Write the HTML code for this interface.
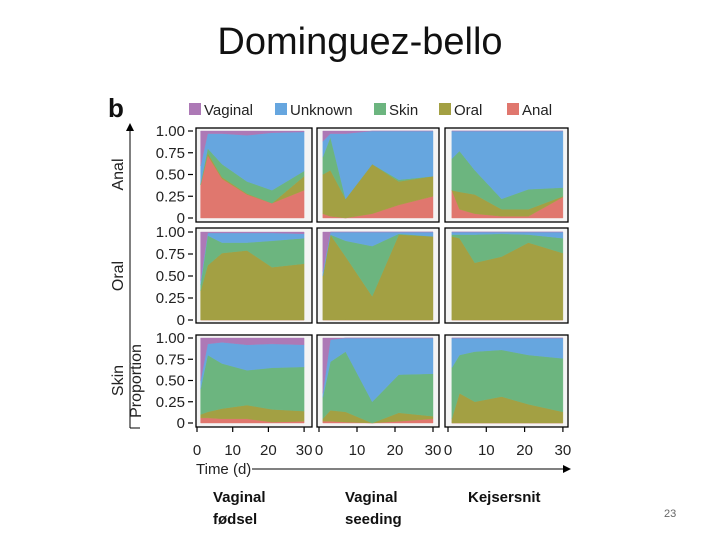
<!DOCTYPE html>
<html><head><meta charset="utf-8">
<style>
html,body{margin:0;padding:0;background:#fff;}
body{width:720px;height:540px;overflow:hidden;position:relative;font-family:"Liberation Sans",sans-serif;}
.t{position:absolute;}
</style></head>
<body>
<div class="t" style="left:0;width:720px;top:21px;text-align:center;font-size:38px;color:#111;">Dominguez-bello</div>
<svg id="chart" width="720" height="540" style="position:absolute;left:0;top:0" xmlns="http://www.w3.org/2000/svg"></svg>
<div class="t" style="left:213px;top:487px;font-size:15px;font-weight:bold;line-height:22px;color:#111;">Vaginal<br>fødsel</div>
<div class="t" style="left:345px;top:487px;font-size:15px;font-weight:bold;line-height:22px;color:#111;">Vaginal<br>seeding</div>
<div class="t" style="left:468px;top:487px;font-size:15px;font-weight:bold;line-height:22px;color:#111;">Kejsersnit</div>
<div class="t" style="left:664px;top:508px;font-size:11px;color:#666;">23</div>
<script>
const days = [1, 3, 7, 14, 21, 30];
const sources = ["Anal", "Oral", "Skin", "Unknown", "Vaginal"];
const colors = ["#e0776e", "#a3a043", "#6cb57f", "#66a6df", "#ad79b6"];
const legendOrder = ["Vaginal", "Unknown", "Skin", "Oral", "Anal"];
const rowNames = ["Anal", "Oral", "Skin"];
const yTicks = [0, 0.25, 0.5, 0.75, 1];
const yTickLabels = ["0", "0.25", "0.50", "0.75", "1.00"];
const xTicks = [0, 10, 20, 30];
// row Anal
const anal_vag_anal = [.38,.72,.45,.27,.17,.32];
const anal_vag_oral = [0,.03,.02,.01,0,.16];
const anal_vag_skin = [.02,.05,.15,.14,.15,.06];
const anal_vag_unk = [.20,.17,.35,.53,.66,.45];
const anal_vag_vag = [.40,.03,.03,.05,.02,.01];
const anal_seed_anal = [.05,.02,0,.05,.15,.25];
const anal_seed_oral = [.45,.53,.22,.57,.27,.23];
const anal_seed_skin = [.2,.38,0,0,.02,0];
const anal_seed_unk = [.18,.04,.75,.38,.56,.52];
const anal_seed_vag = [.12,.03,.03,0,0,0];
const anal_cs_anal = [.32,.1,.05,.02,.02,.24];
const anal_cs_oral = [0,.2,.22,.08,.08,.01];
const anal_cs_skin = [.36,.47,.28,.12,.23,.1];
const anal_cs_unk = [.32,.23,.45,.78,.67,.65];
const anal_cs_vag = [0,0,0,0,0,0];
// row Oral
const oral_vag_anal = [0,0,0,0,0,0];
const oral_vag_oral = [.33,.62,.76,.79,.6,.64];
const oral_vag_skin = [.07,.34,.12,.09,.3,.29];
const oral_vag_unk = [.05,.03,.11,.11,.09,.05];
const oral_vag_vag = [.55,.01,.01,.01,.01,.02];
const oral_seed_anal = [0,0,0,0,0,0];
const oral_seed_oral = [.5,.97,.72,.27,.97,.95];
const oral_seed_skin = [0,0,.18,.57,.01,0];
const oral_seed_unk = [.05,.03,.1,.16,.02,.05];
const oral_seed_vag = [.45,0,0,0,0,0];
const oral_cs_anal = [0,0,0,0,0,0];
const oral_cs_oral = [.95,.93,.65,.72,.88,.76];
const oral_cs_skin = [.02,.04,.32,.26,.09,.17];
const oral_cs_unk = [.03,.03,.03,.02,.03,.07];
const oral_cs_vag = [0,0,0,0,0,0];
// row Skin
const skin_vag_anal = [.06,.06,.05,.05,.01,.02];
const skin_vag_oral = [.04,.07,.12,.16,.15,.12];
const skin_vag_skin = [.3,.67,.53,.41,.49,.52];
const skin_vag_unk = [.1,.13,.25,.3,.28,.26];
const skin_vag_vag = [.5,.07,.05,.08,.07,.08];
const skin_seed_anal = [.02,.02,.01,0,.02,.05];
const skin_seed_oral = [.03,.13,.12,0,.1,.03];
const skin_seed_skin = [.25,.57,.71,.25,.45,.5];
const skin_seed_unk = [.05,.26,.16,.75,.43,.42];
const skin_seed_vag = [.65,.02,0,0,0,0];
const skin_cs_anal = [0,0,0,0,0,0];
const skin_cs_oral = [.05,.35,.25,.31,.22,.13];
const skin_cs_skin = [.6,.45,.59,.55,.58,.63];
const skin_cs_unk = [.35,.2,.16,.14,.2,.24];
const skin_cs_vag = [0,0,0,0,0,0];

const panels = [
 [[anal_vag_anal,anal_vag_oral,anal_vag_skin,anal_vag_unk,anal_vag_vag],
  [anal_seed_anal,anal_seed_oral,anal_seed_skin,anal_seed_unk,anal_seed_vag],
  [anal_cs_anal,anal_cs_oral,anal_cs_skin,anal_cs_unk,anal_cs_vag]],
 [[oral_vag_anal,oral_vag_oral,oral_vag_skin,oral_vag_unk,oral_vag_vag],
  [oral_seed_anal,oral_seed_oral,oral_seed_skin,oral_seed_unk,oral_seed_vag],
  [oral_cs_anal,oral_cs_oral,oral_cs_skin,oral_cs_unk,oral_cs_vag]],
 [[skin_vag_anal,skin_vag_oral,skin_vag_skin,skin_vag_unk,skin_vag_vag],
  [skin_seed_anal,skin_seed_oral,skin_seed_skin,skin_seed_unk,skin_seed_vag],
  [skin_cs_anal,skin_cs_oral,skin_cs_skin,skin_cs_unk,skin_cs_vag]]
];

const colGeo = [{f0:196,f1:312,x0:197,k:3.57},{f0:317,f1:439,x0:319,k:3.8},{f0:445,f1:568,x0:448,k:3.83}];
const rowGeo = [{f0:128,f1:222,y1:131,y0:218},{f0:228,f1:323,y1:232,y0:320},{f0:335,f1:427,y1:338,y0:423}];
const NS = "http://www.w3.org/2000/svg";
const svg = document.getElementById("chart");
function mk(tag, attrs, parent){const e=document.createElementNS(NS,tag);for(const k in attrs)e.setAttribute(k,attrs[k]);(parent||svg).appendChild(e);return e;}
function xs(c,d){return colGeo[c].x0+colGeo[c].k*d;}
function ys(r,v){return rowGeo[r].y0-(rowGeo[r].y0-rowGeo[r].y1)*v;}

for(let r=0;r<3;r++){
  for(let c=0;c<3;c++){
    const g=mk("g",{});
    
    
    const cg=colGeo[c], rg=rowGeo[r];
    mk("rect",{x:cg.f0,y:rg.f0,width:cg.f1-cg.f0,height:rg.f1-rg.f0,fill:"#f4f4f4"},g);
    const cum=days.map(()=>0);
    const series=panels[r][c];
    for(let s=0;s<5;s++){
      const lo=cum.slice();
      for(let i=0;i<days.length;i++)cum[i]+=series[s][i];
      let d="";
      for(let i=0;i<days.length;i++)d+=(i?"L":"M")+xs(c,days[i]).toFixed(1)+","+ys(r,cum[i]).toFixed(1);
      for(let i=days.length-1;i>=0;i--)d+="L"+xs(c,days[i]).toFixed(1)+","+ys(r,lo[i]).toFixed(1);
      const p=mk("path",{d:d+"Z",fill:colors[s],stroke:colors[s],"stroke-width":0.4},g);
      
      
    }
    mk("rect",{x:cg.f0,y:rg.f0,width:cg.f1-cg.f0,height:rg.f1-rg.f0,fill:"none",stroke:"#000","stroke-width":1.3},g);
  }
  for(let i=0;i<yTicks.length;i++){
    const y=ys(r,yTicks[i]);
    mk("line",{x1:188,x2:193,y1:y,y2:y,stroke:"#000","stroke-width":1.2});
    const t=mk("text",{x:185,y:y+5,"text-anchor":"end","font-size":15,fill:"#222","font-family":"Liberation Sans, sans-serif"});
    t.textContent=yTickLabels[i];
    
    
  }
  const cy=(rowGeo[r].y0+rowGeo[r].y1)/2;
  const rl=mk("text",{x:0,y:0,transform:"translate(123,"+cy+") rotate(-90)","text-anchor":"middle","font-size":16,fill:"#222","font-family":"Liberation Sans, sans-serif"});
  rl.textContent=rowNames[r];
  
  
}
for(let c=0;c<3;c++){
  for(const v of xTicks){
    const x=xs(c,v);
    mk("line",{x1:x,x2:x,y1:427,y2:432,stroke:"#000","stroke-width":1.2});
    const t=mk("text",{x:x,y:455,"text-anchor":"middle","font-size":15,fill:"#222","font-family":"Liberation Sans, sans-serif"});
    t.textContent=String(v);
    
    
  }
}
mk("line",{x1:130,x2:130,y1:130,y2:428,stroke:"#000","stroke-width":1});
mk("path",{d:"M126,131 L130,123 L134,131Z",fill:"#000"});
mk("line",{x1:130,x2:140,y1:428,y2:428,stroke:"#000","stroke-width":1});
const pl=mk("text",{x:0,y:0,transform:"translate(141,381) rotate(-90)","text-anchor":"middle","font-size":16,fill:"#222","font-family":"Liberation Sans, sans-serif"});
pl.textContent="Proportion";


const tl=mk("text",{x:196,y:474,"font-size":15,fill:"#222","font-family":"Liberation Sans, sans-serif"});
tl.textContent="Time (d)";


mk("line",{x1:252,x2:564,y1:469,y2:469,stroke:"#000","stroke-width":1});
mk("path",{d:"M563,465 L571,469 L563,473Z",fill:"#000"});
const b=mk("text",{x:108,y:117,"font-size":26,"font-weight":"bold",fill:"#111","font-family":"Liberation Sans, sans-serif"});
b.textContent="b";


const legX=[189,275,374,439,507];
for(let i=0;i<legendOrder.length;i++){
  const s=sources.indexOf(legendOrder[i]);
  const g=mk("g",{});
  
  
  mk("rect",{x:legX[i],y:103,width:12,height:12,fill:colors[s]},g);
  const t=mk("text",{x:legX[i]+15,y:115,"font-size":15,fill:"#222","font-family":"Liberation Sans, sans-serif"},g);
  t.textContent=legendOrder[i];
}
</script>
</body></html>
